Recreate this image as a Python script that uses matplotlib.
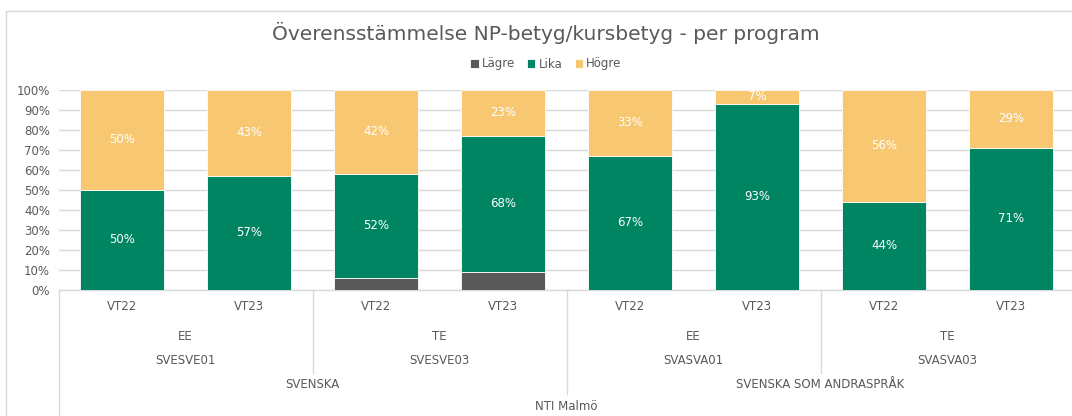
import matplotlib
matplotlib.use("Agg")
import matplotlib.pyplot as plt
import matplotlib.transforms as mtransforms
from matplotlib.lines import Line2D
from matplotlib.patches import Rectangle
import numpy as np

plt.rcParams['font.family'] = ['DejaVu Sans']

terms = ["VT22", "VT23", "VT22", "VT23", "VT22", "VT23", "VT22", "VT23"]
programs = ["EE", "TE", "EE", "TE"]
courses = ["SVESVE01", "SVESVE03", "SVASVA01", "SVASVA03"]
subjects = ["SVENSKA", "SVENSKA SOM ANDRASPRÅK"]
school = "NTI Malmö"

lagre = [0, 0, 6, 9, 0, 0, 0, 0]
lika = [50, 57, 52, 68, 67, 93, 44, 71]
hogre = [50, 43, 42, 23, 33, 7, 56, 29]

c_lagre = "#595959"
c_lika = "#008562"
c_hogre = "#F8C772"
txt_gray = "#595959"

W, H = 1072, 416
fig = plt.figure(figsize=(W / 100, H / 100), dpi=100)

# outer chart border
fig.patches.append(Rectangle((6 / W, -0.1), 1.2, 1 - 11 / H + 0.1, transform=fig.transFigure,
                             fill=False, edgecolor="#D9D9D9", linewidth=1.0))

ax_left, ax_right = 58.5, 1074.5
ax_top, ax_bot = 90, 290
ax = fig.add_axes([ax_left / W, 1 - ax_bot / H, (ax_right - ax_left) / W, (ax_bot - ax_top) / H])

x = np.arange(len(terms))
bw = 0.66
lagre_a = np.array(lagre, float)
lika_a = np.array(lika, float)
hogre_a = np.array(hogre, float)

ax.bar(x, lagre_a, bw, color=c_lagre, edgecolor="white", linewidth=0.6, label="Lägre", zorder=3)
ax.bar(x, lika_a, bw, bottom=lagre_a, color=c_lika, edgecolor="white", linewidth=0.6, label="Lika", zorder=3)
ax.bar(x, hogre_a, bw, bottom=lagre_a + lika_a, color=c_hogre, edgecolor="white", linewidth=0.6, label="Högre", zorder=3)

for i in range(len(x)):
    if lika[i] > 0:
        ax.text(x[i], lagre[i] + lika[i] / 2, f"{lika[i]}%", ha="center", va="center",
                color="white", fontsize=8.5, zorder=4)
    if hogre[i] > 0:
        ax.text(x[i], lagre[i] + lika[i] + hogre[i] / 2, f"{hogre[i]}%", ha="center", va="center",
                color="white", fontsize=8.5, zorder=4)

ax.set_xlim(-0.5, len(x) - 0.5)
ax.set_ylim(0, 100)
ax.set_yticks(np.arange(0, 101, 10))
ax.set_yticklabels([f"{v}%" for v in range(0, 101, 10)], color=txt_gray, fontsize=8.5)
ax.tick_params(axis="y", length=0, pad=6)
ax.set_xticks([])
ax.grid(axis="y", color="#D9D9D9", linewidth=1.0, zorder=0)
for s in ax.spines.values():
    s.set_visible(False)

# hierarchical category labels
tr = mtransforms.blended_transform_factory(ax.transData, fig.transFigure)

def fy(py):
    return 1 - py / H

for i, t in enumerate(terms):
    fig.text(0, 0, "")
    ax.text(x[i], fy(306), t, transform=tr, ha="center", va="center", color=txt_gray, fontsize=8.5)
for j, p in enumerate(programs):
    ax.text(2 * j + 0.5, fy(336), p, transform=tr, ha="center", va="center", color=txt_gray, fontsize=8.5)
for j, c in enumerate(courses):
    ax.text(2 * j + 0.5, fy(361), c, transform=tr, ha="center", va="center", color=txt_gray, fontsize=8.5)
for j, s in enumerate(subjects):
    ax.text(4 * j + 1.5, fy(385), s, transform=tr, ha="center", va="center", color=txt_gray, fontsize=8.5)
ax.text(3.5, fy(407), school, transform=tr, ha="center", va="center", color=txt_gray, fontsize=8.5)

line_kw = dict(transform=tr, color="#D9D9D9", linewidth=1.0, clip_on=False)
ax.add_line(Line2D([-0.5, 7.5], [fy(290), fy(290)], **line_kw))
ax.add_line(Line2D([-0.5, -0.5], [fy(290), fy(420)], **line_kw))
for xs in [1.5, 5.5]:
    ax.add_line(Line2D([xs, xs], [fy(290), fy(373)], **line_kw))
ax.add_line(Line2D([3.5, 3.5], [fy(290), fy(394)], **line_kw))

fig.text(546 / W, fy(33), "Överensstämmelse NP-betyg/kursbetyg - per program", ha="center", va="center",
         color=txt_gray, fontsize=14.5)

leg = fig.legend(loc="center", bbox_to_anchor=(546 / W, fy(64)), ncol=3, frameon=False,
                 fontsize=8.5, handlelength=0.7, handleheight=0.7, handletextpad=0.3, columnspacing=1.0)
for t in leg.get_texts():
    t.set_color(txt_gray)

fig.savefig("out.png", dpi=100)
